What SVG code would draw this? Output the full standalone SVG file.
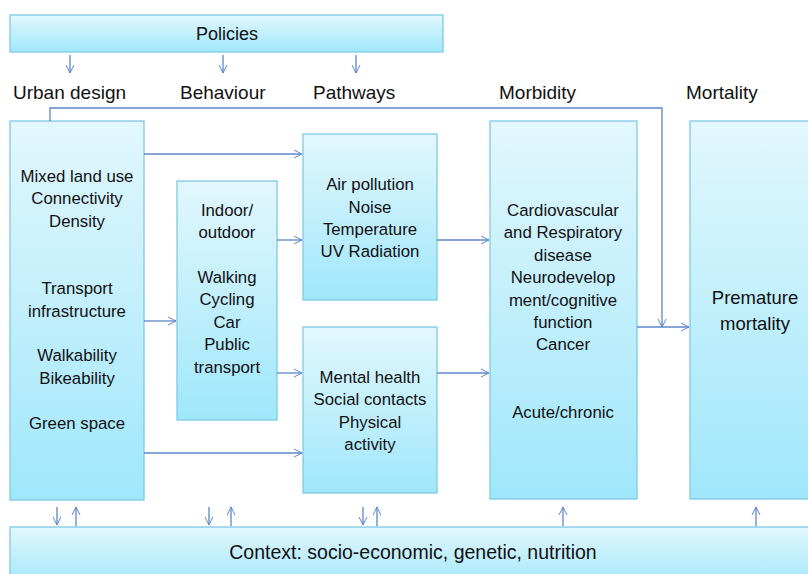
<svg xmlns="http://www.w3.org/2000/svg" width="808" height="574" viewBox="0 0 808 574">
<defs>
<linearGradient id="g" x1="0" y1="0" x2="0" y2="1">
<stop offset="0" stop-color="#e2f7fd"/>
<stop offset="1" stop-color="#a0e7fb"/>
</linearGradient>
<marker id="a" viewBox="0 0 10 10" refX="9" refY="5" markerWidth="10" markerHeight="10" markerUnits="userSpaceOnUse" orient="auto">
<path d="M1,1 L9,5 L1,9" fill="none" stroke="#5b87c8" stroke-width="1"/>
</marker>
</defs>
<style>
.box{fill:url(#g);stroke:#7fc9e3;stroke-width:1.3}
.t{font-family:"Liberation Sans",Arial,sans-serif;font-size:16.8px;fill:#111;text-anchor:middle}
.h{font-family:"Liberation Sans",Arial,sans-serif;font-size:19px;fill:#111}
.c{fill:none;stroke:#5b87c8;stroke-width:1.3}
</style>
<g id="policies">
<rect class="box" x="10" y="15" width="433" height="37"/>
<text class="t" x="227" y="40" style="font-size:18px">Policies</text>
</g>
<g id="headers">
<text class="h" x="13" y="99">Urban design</text>
<text class="h" x="180" y="99">Behaviour</text>
<text class="h" x="313" y="99">Pathways</text>
<text class="h" x="499" y="99">Morbidity</text>
<text class="h" x="686" y="99">Mortality</text>
</g>
<g id="urban">
<rect class="box" x="10" y="121" width="134" height="379"/>
<text class="t" x="77" y="182">Mixed land use</text>
<text class="t" x="77" y="204">Connectivity</text>
<text class="t" x="77" y="227">Density</text>
<text class="t" x="77" y="294">Transport</text>
<text class="t" x="77" y="317">infrastructure</text>
<text class="t" x="77" y="361">Walkability</text>
<text class="t" x="77" y="384">Bikeability</text>
<text class="t" x="77" y="429">Green space</text>
</g>
<g id="behaviour">
<rect class="box" x="177" y="181" width="100" height="239"/>
<text class="t" x="227" y="216">Indoor/</text>
<text class="t" x="227" y="238">outdoor</text>
<text class="t" x="227" y="283">Walking</text>
<text class="t" x="227" y="305">Cycling</text>
<text class="t" x="227" y="328">Car</text>
<text class="t" x="227" y="350">Public</text>
<text class="t" x="227" y="373">transport</text>
</g>
<g id="pathways-env">
<rect class="box" x="303" y="134" width="134" height="166"/>
<text class="t" x="370" y="190">Air pollution</text>
<text class="t" x="370" y="213">Noise</text>
<text class="t" x="370" y="235">Temperature</text>
<text class="t" x="370" y="257">UV Radiation</text>
</g>
<g id="pathways-social">
<rect class="box" x="303" y="327" width="134" height="166"/>
<text class="t" x="370" y="383">Mental health</text>
<text class="t" x="370" y="405">Social contacts</text>
<text class="t" x="370" y="428">Physical</text>
<text class="t" x="370" y="450">activity</text>
</g>
<g id="morbidity">
<rect class="box" x="490" y="121" width="147" height="378"/>
<text class="t" x="563" y="216">Cardiovascular</text>
<text class="t" x="563" y="238">and Respiratory</text>
<text class="t" x="563" y="261">disease</text>
<text class="t" x="563" y="283">Neurodevelop</text>
<text class="t" x="563" y="306">ment/cognitive</text>
<text class="t" x="563" y="328">function</text>
<text class="t" x="563" y="350">Cancer</text>
<text class="t" x="563" y="418">Acute/chronic</text>
</g>
<g id="mortality">
<rect class="box" x="690" y="121" width="130" height="378"/>
<text class="t" x="755" y="304" style="font-size:18.5px">Premature</text>
<text class="t" x="755" y="330" style="font-size:18.5px">mortality</text>
</g>
<g id="context">
<rect class="box" x="10" y="527" width="810" height="60"/>
<text class="t" x="413" y="559" style="font-size:19.5px">Context: socio-economic, genetic, nutrition</text>
</g>
<g id="connectors">
<line class="c" x1="70" y1="55" x2="70" y2="73" marker-end="url(#a)"/>
<line class="c" x1="223" y1="55" x2="223" y2="73" marker-end="url(#a)"/>
<line class="c" x1="356" y1="55" x2="356" y2="73" marker-end="url(#a)"/>
<polyline class="c" points="50,121 50,108 662,108 662,327" marker-end="url(#a)"/>
<line class="c" x1="144" y1="154" x2="302" y2="154" marker-end="url(#a)"/>
<line class="c" x1="144" y1="321" x2="176" y2="321" marker-end="url(#a)"/>
<line class="c" x1="144" y1="453" x2="302" y2="453" marker-end="url(#a)"/>
<line class="c" x1="277" y1="240" x2="302" y2="240" marker-end="url(#a)"/>
<line class="c" x1="277" y1="373" x2="302" y2="373" marker-end="url(#a)"/>
<line class="c" x1="437" y1="240" x2="489" y2="240" marker-end="url(#a)"/>
<line class="c" x1="437" y1="373" x2="489" y2="373" marker-end="url(#a)"/>
<line class="c" x1="637" y1="327" x2="689" y2="327" marker-end="url(#a)"/>
<line class="c" x1="57" y1="507" x2="57" y2="525" marker-end="url(#a)"/>
<line class="c" x1="76" y1="526" x2="76" y2="507" marker-end="url(#a)"/>
<line class="c" x1="209" y1="507" x2="209" y2="525" marker-end="url(#a)"/>
<line class="c" x1="231" y1="526" x2="231" y2="507" marker-end="url(#a)"/>
<line class="c" x1="363" y1="507" x2="363" y2="525" marker-end="url(#a)"/>
<line class="c" x1="377" y1="526" x2="377" y2="507" marker-end="url(#a)"/>
<line class="c" x1="563" y1="526" x2="563" y2="507" marker-end="url(#a)"/>
<line class="c" x1="756" y1="526" x2="756" y2="507" marker-end="url(#a)"/>
</g>
</svg>
